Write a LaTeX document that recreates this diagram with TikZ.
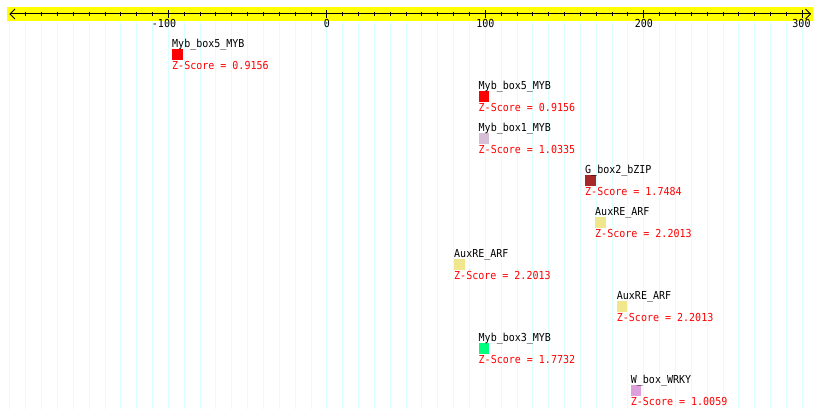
\documentclass[tikz,border=0pt]{standalone}
\usepackage{fontspec}
\newfontfamily\pixfont[FakeStretch=0.91]{DejaVu Sans Mono}
\definecolor{gridcyan}{RGB}{220,255,255}
\definecolor{mthistle}{RGB}{216,191,216}
\definecolor{mbrown}{RGB}{165,42,42}
\definecolor{mkhaki}{RGB}{240,230,140}
\definecolor{mspring}{RGB}{0,255,127}
\definecolor{mplum}{RGB}{221,160,221}
\definecolor{myellow}{RGB}{255,255,0}
\newcommand\motifentry[6]{%
  \node[sq, fill=#5] (s#1) at (#2,#3+1.5) {};
  \node[lbl] (n#1) at (#2,#3) {#4};
  \node[zs] (z#1) at (#2,#3+22) {Z-Score = #6};
}
\begin{document}
\begin{tikzpicture}[x=1pt,y=-1pt,
  lbl/.style={font=\pixfont\fontsize{11}{13}\selectfont, inner sep=0pt, anchor=base west, text=black},
  zs/.style={lbl, text=red},
  sq/.style={inner sep=0pt, minimum size=10.5pt, anchor=north west, draw=none},
  ticklbl/.style={font=\pixfont\fontsize{11}{13}\selectfont, inner sep=0pt, anchor=base},
  axisline/.style={black, line width=1pt},
  gridline/.style={gridcyan, line width=1pt}]
\useasboundingbox[fill=white] (0,0) rectangle (820,419);
% grid
\foreach \u in {-200,-190,...,300}
  \draw[gridline] ({326.9+1.5846*\u},21) -- ({326.9+1.5846*\u},409);
% axis band
\fill[myellow] (7,7) rectangle (813,21);
\coordinate (axL) at (10,14);
\coordinate (axR) at (810.5,14);
\draw[axisline] (axL) -- (axR);
\draw[axisline] (15,9) -- (axL) -- (15,19);
\draw[axisline] (805.5,9) -- (axR) -- (805.5,19);
\foreach \u in {-190,-180,...,290}
  \draw[axisline] ({326.9+1.5846*\u},12) -- ({326.9+1.5846*\u},16);
\foreach \u in {-100,0,100,200,300}
  \draw[axisline] ({326.9+1.5846*\u},10.5) -- ({326.9+1.5846*\u},18);
\node[ticklbl] (tm100) at (164,28) {-100};
\node[ticklbl] (t0) at (326.9,28) {0};
\node[ticklbl] (t100) at (485.4,28) {100};
\node[ticklbl] (t200) at (643.8,28) {200};
\node[ticklbl] (t300) at (801.5,28) {300};
% motifs
\motifentry{1}{172}{47.5}{Myb\_box5\_MYB}{red}{0.9156}
\motifentry{2}{478.5}{89.5}{Myb\_box5\_MYB}{red}{0.9156}
\motifentry{3}{478.5}{131.5}{Myb\_box1\_MYB}{mthistle}{1.0335}
\motifentry{4}{585}{173.5}{G\_box2\_bZIP}{mbrown}{1.7484}
\motifentry{5}{595}{215.5}{AuxRE\_ARF}{mkhaki}{2.2013}
\motifentry{6}{454}{257.5}{AuxRE\_ARF}{mkhaki}{2.2013}
\motifentry{7}{616.7}{299.5}{AuxRE\_ARF}{mkhaki}{2.2013}
\motifentry{8}{478.5}{341.5}{Myb\_box3\_MYB}{mspring}{1.7732}
\motifentry{9}{630.7}{383.5}{W\_box\_WRKY}{mplum}{1.0059}
\end{tikzpicture}
\end{document}
